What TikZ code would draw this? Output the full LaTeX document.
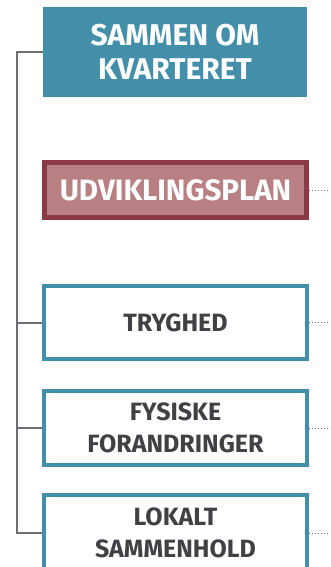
\documentclass[tikz,border=0pt]{standalone}
\usepackage{fontspec}
\setmainfont{Fira Sans}
\definecolor{teal}{HTML}{438FAA}
\definecolor{wine}{HTML}{8D3A47}
\definecolor{rose}{HTML}{B88083}
\definecolor{ink}{HTML}{414145}
\definecolor{wire}{HTML}{6D6E71}
\tikzset{
  mainbox/.style={fill=teal, text=white, font=\bfseries\fontsize{30}{34}\selectfont,
    align=center, minimum width=264pt, minimum height=90pt, inner sep=0pt},
  planbox/.style={draw=wine, line width=5pt, fill=rose, text=white,
    font=\bfseries\fontsize{29.5}{34}\selectfont, minimum width=262pt, minimum height=55pt, inner sep=0pt},
  themebox/.style={draw=teal, line width=4pt, fill=white, text=ink, align=center,
    font=\bfseries\fontsize{25}{32}\selectfont, minimum width=263pt, inner sep=0pt},
  wireline/.style={draw=wire, line width=2pt},
  dotline/.style={draw=wire, line width=1pt, dotted},
}
\begin{document}
\begin{tikzpicture}[x=1pt,y=-1pt]
        \useasboundingbox (0,0) rectangle (330,567);
        \clip (0,0) rectangle (330,567);
        % Boxes
        \node[mainbox] (kvarter) at (175,52) {SAMMEN OM\\KVARTERET};
        \node[planbox] (plan) at (175.5,190) {UDVIKLINGSPLAN};
        \node[themebox, minimum height=73pt] (tryghed) at (175.5,322.5) {TRYGHED};
        \node[themebox, minimum height=74pt] (fysisk) at (175.5,428) {FYSISKE\\FORANDRINGER};
        \node[themebox, minimum height=76pt] (lokalt) at (175.5,533) {LOKALT\\SAMMENHOLD};
        % Tree lines
        \coordinate (spine) at (17,52);
        \draw[wireline] (kvarter.west) -- (spine) |- (lokalt.west);
        \draw[wireline] (spine |- tryghed.west) -- (tryghed.west);
        \draw[wireline] (spine |- fysisk.west) -- (fysisk.west);
        % Dotted ends
        \draw[dotline] (plan.east) -- ++(22,0);
        \draw[dotline] (tryghed.east) -- ++(22,0);
        \draw[dotline] (fysisk.east) -- ++(22,0);
        \draw[dotline] (lokalt.east) -- ++(22,0);
    \end{tikzpicture}
\end{document}
